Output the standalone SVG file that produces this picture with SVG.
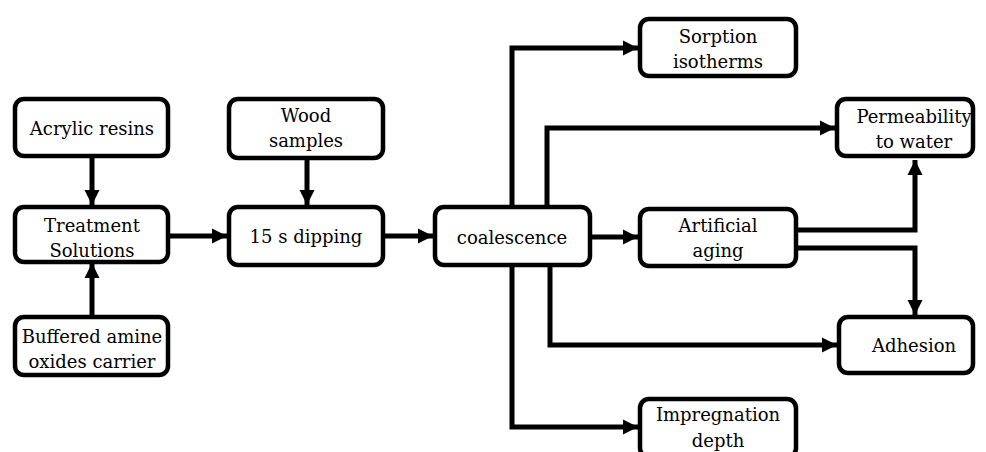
<svg xmlns="http://www.w3.org/2000/svg" width="986" height="452" viewBox="0 0 986 452">
<style>
.box{fill:#fff;stroke:#000;stroke-width:4.5}
text{font-family:'DejaVu Serif',serif;font-size:18px;fill:#000;text-anchor:middle}
.c{fill:none;stroke:#000;stroke-width:5;stroke-linejoin:miter;marker-end:url(#ah)}
</style>
<defs>
<marker id="ah" markerUnits="userSpaceOnUse" markerWidth="16" markerHeight="16" refX="15" refY="8" orient="auto">
<path d="M0,0.5 L15,8 L0,15.5 z" fill="#000"/>
</marker>
</defs>
<rect width="986" height="452" fill="#fff"/>
<g id="connectors">
<path class="c" d="M92,158 V205"/>
<path class="c" d="M92,315 V263"/>
<path class="c" d="M170,236 H227"/>
<path class="c" d="M307,160 V205"/>
<path class="c" d="M385,236 H433"/>
<path class="c" d="M512,205 V48 H638"/>
<path class="c" d="M547,205 V128 H835"/>
<path class="c" d="M592,237 H638"/>
<path class="c" d="M798,230 H915 V160"/>
<path class="c" d="M798,248 H915 V315"/>
<path class="c" d="M550,267 V345 H837"/>
<path class="c" d="M512,267 V427 H638"/>
</g>
<g id="acrylic"><rect class="box" x="15" y="99" width="153" height="57" rx="9"/><text x="92" y="135">Acrylic resins</text></g>
<g id="treatment"><rect class="box" x="15" y="207" width="153" height="55" rx="9"/><text x="92" y="232">Treatment</text><text x="92" y="257">Solutions</text></g>
<g id="buffered"><rect class="box" x="15" y="317" width="153" height="58" rx="9"/><text x="92" y="343">Buffered amine</text><text x="92" y="368">oxides carrier</text></g>
<g id="wood"><rect class="box" x="229" y="99" width="154" height="59" rx="9"/><text x="306" y="122">Wood</text><text x="306" y="147">samples</text></g>
<g id="dipping"><rect class="box" x="229" y="207" width="154" height="58" rx="9"/><text x="306" y="243">15 s dipping</text></g>
<g id="coalescence"><rect class="box" x="435" y="207" width="155" height="58" rx="9"/><text x="512" y="244">coalescence</text></g>
<g id="sorption"><rect class="box" x="640" y="19" width="156" height="57" rx="9"/><text x="718" y="43">Sorption</text><text x="718" y="68">isotherms</text></g>
<g id="permeability"><rect class="box" x="837" y="99" width="136" height="57" rx="9"/><text x="914" y="123">Permeability</text><text x="914" y="148">to water</text></g>
<g id="aging"><rect class="box" x="640" y="209" width="156" height="57" rx="9"/><text x="718" y="232">Artificial</text><text x="718" y="257">aging</text></g>
<g id="adhesion"><rect class="box" x="839" y="317" width="134" height="56" rx="9"/><text x="914" y="352">Adhesion</text></g>
<g id="impregnation"><rect class="box" x="640" y="399" width="156" height="58" rx="9"/><text x="718" y="421">Impregnation</text><text x="718" y="447">depth</text></g>
</svg>
